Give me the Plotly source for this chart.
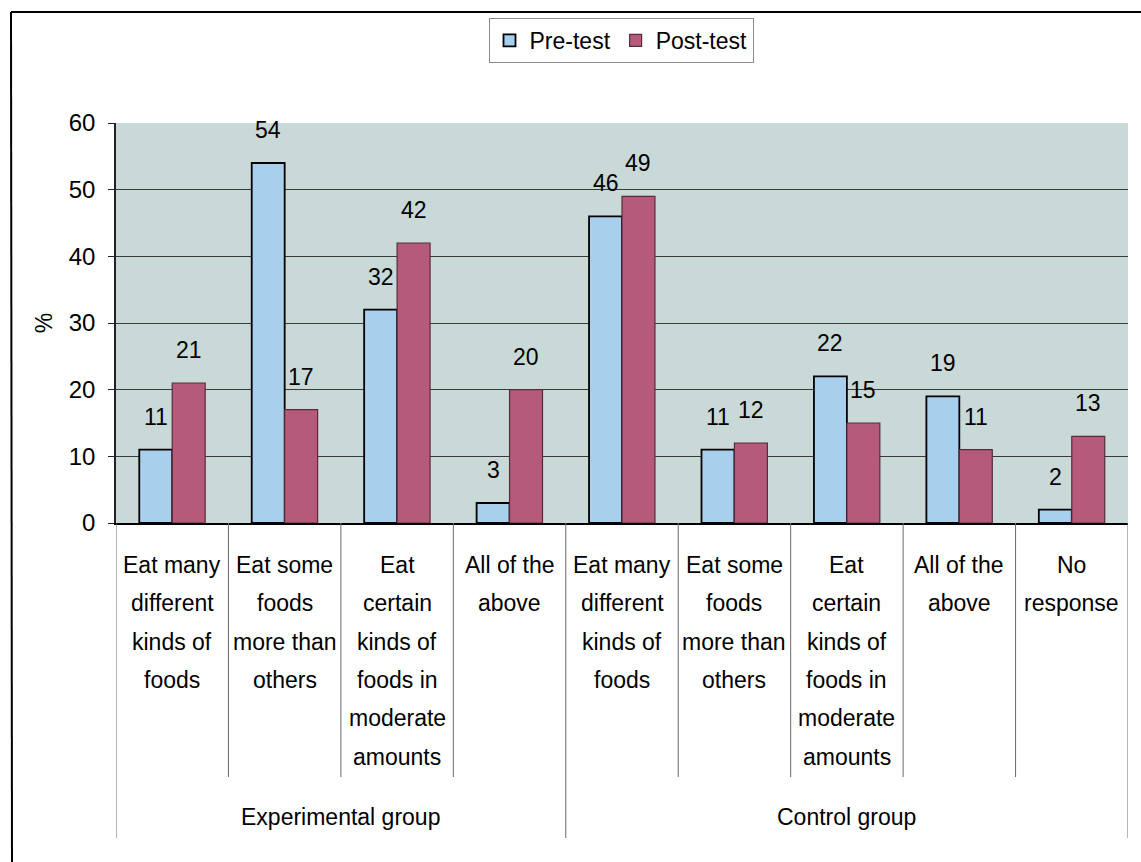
import plotly.graph_objects as go

# ---------------- data ----------------
groups = ["Experimental group", "Control group"]
group_sizes = [4, 5]
category_labels = [
    ["Eat many", "different", "kinds of", "foods"],
    ["Eat some", "foods", "more than", "others"],
    ["Eat", "certain", "kinds of", "foods in", "moderate", "amounts"],
    ["All of the", "above"],
    ["Eat many", "different", "kinds of", "foods"],
    ["Eat some", "foods", "more than", "others"],
    ["Eat", "certain", "kinds of", "foods in", "moderate", "amounts"],
    ["All of the", "above"],
    ["No", "response"],
]
pre_test = [11, 54, 32, 3, 46, 11, 22, 19, 2]
post_test = [21, 17, 42, 20, 49, 12, 15, 11, 13]
series_names = ["Pre-test", "Post-test"]
y_ticks = [0, 10, 20, 30, 40, 50, 60]

# ---------------- layout constants ----------------
W, H = 1141, 862
L, R, T, B = 116, 13, 123, 339
PLOT_H = H - T - B
PLOT_W = W - L - R
FONT = "Liberation Sans"
BLUE = "#A8CFEC"
PURPLE = "#B65A7B"
BG = "#C8D9D8"
BAR_W = 0.293


def py2paper(py):
    return (H - B - py) / PLOT_H


def px2paper(px):
    return (px - L) / PLOT_W


xs = list(range(len(pre_test)))

fig = go.Figure()
fig.add_trace(go.Bar(
    x=xs, y=pre_test, name=series_names[0], width=BAR_W, offset=-BAR_W,
    marker=dict(color=BLUE, line=dict(color="#000000", width=1.8)),
))
fig.add_trace(go.Bar(
    x=xs, y=post_test, name=series_names[1], width=BAR_W, offset=0,
    marker=dict(color=PURPLE, line=dict(color="#5a2a3a", width=1.2)),
))

annotations = []
# data labels
for i, (a, b) in enumerate(zip(pre_test, post_test)):
    annotations.append(dict(x=i - BAR_W / 2, y=a, xref="x", yref="y", text=str(a),
                            showarrow=False, yshift=33, yanchor="middle",
                            font=dict(family=FONT, size=23, color="black")))
    annotations.append(dict(x=i + BAR_W / 2, y=b, xref="x", yref="y", text=str(b),
                            showarrow=False, yshift=33, yanchor="middle",
                            font=dict(family=FONT, size=23, color="black")))

# category labels (one annotation per line, Excel-like line spacing)
LINE0, LINE_STEP = 565, 38.3
for i, lines in enumerate(category_labels):
    for k, line in enumerate(lines):
        annotations.append(dict(x=i, y=py2paper(LINE0 + k * LINE_STEP), xref="x", yref="paper",
                                text=line, showarrow=False, yanchor="middle", xanchor="center",
                                font=dict(family=FONT, size=23, color="black")))

shapes = []
# inner dividers
start = -0.5
boundaries_group = [start]
acc = start
for n in group_sizes:
    acc += n
    boundaries_group.append(acc)
for i in range(len(xs) + 1):
    bx = i - 0.5
    if bx in boundaries_group:
        continue
    shapes.append(dict(type="line", xref="x", yref="paper", x0=bx, x1=bx,
                       y0=0, y1=py2paper(777), line=dict(color="#6a6a6a", width=1)))
for bx in boundaries_group:
    shapes.append(dict(type="line", xref="x", yref="paper", x0=bx, x1=bx,
                       y0=0, y1=py2paper(838), line=dict(color="#6a6a6a", width=1)))

# group labels
for g, (name, n) in enumerate(zip(groups, group_sizes)):
    center = (boundaries_group[g] + boundaries_group[g + 1]) / 2
    annotations.append(dict(x=center, y=py2paper(817), xref="x", yref="paper", text=name,
                            showarrow=False, yanchor="middle", xanchor="center",
                            font=dict(family=FONT, size=23, color="black")))

# outer chart frame (top and left edges visible)
shapes.append(dict(type="line", xref="paper", yref="paper",
                   x0=px2paper(11), x1=px2paper(W + 5), y0=py2paper(12), y1=py2paper(12),
                   line=dict(color="black", width=2)))
shapes.append(dict(type="line", xref="paper", yref="paper",
                   x0=px2paper(11), x1=px2paper(12), y0=py2paper(12), y1=py2paper(H + 5),
                   line=dict(color="black", width=2)))

fig.update_layout(
    width=W, height=H,
    margin=dict(l=L, r=R, t=T, b=B, pad=0),
    paper_bgcolor="white",
    plot_bgcolor=BG,
    barmode="overlay",
    font=dict(family=FONT, size=23, color="black"),
    showlegend=True,
    legend=dict(orientation="h", x=px2paper(621), xanchor="center",
                y=py2paper(18), yanchor="top",
                bordercolor="#8a8a8a", borderwidth=1, bgcolor="white",
                font=dict(family=FONT, size=23, color="black"),
                itemwidth=30, traceorder="normal"),
    annotations=annotations,
    shapes=shapes,
)
fig.update_xaxes(range=[-0.5, len(xs) - 0.5], showticklabels=False, showgrid=False,
                 zeroline=False, showline=True, linecolor="black", linewidth=1.5, ticks="")
fig.update_yaxes(range=[0, 60], tickvals=y_ticks, showgrid=True, gridcolor="#3a3a3a",
                 gridwidth=1, zeroline=False, showline=True, linecolor="#222222", linewidth=1.5,
                 ticks="outside", ticklen=6, tickcolor="#222222", ticklabelstandoff=8,
                 tickfont=dict(family=FONT, size=24, color="black"),
                 title=dict(text="%", standoff=10, font=dict(family=FONT, size=23, color="black")))

fig.write_html("out.html", config={"displayModeBar": False},
               post_script="document.body.style.margin='0';")
